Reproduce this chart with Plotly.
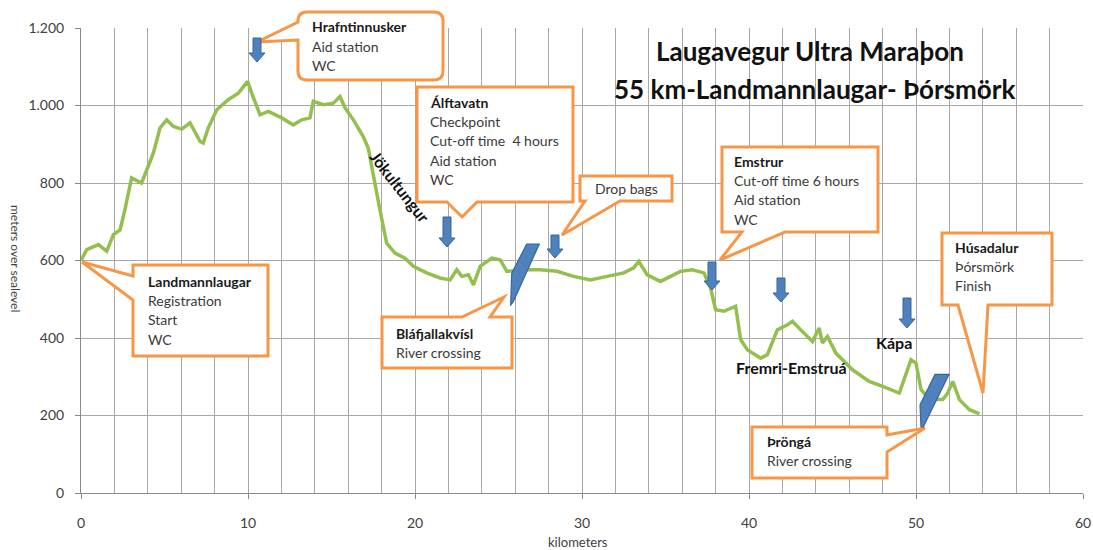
import plotly.graph_objects as go

# ---------------- data ----------------
km = [0.0, 0.34, 1.04, 1.54, 1.94, 2.34, 2.63, 3.03, 3.63, 4.33, 4.73, 5.13, 5.53, 6.03,
      6.53, 7.13, 7.32, 7.62, 8.13, 8.82, 9.42, 9.98, 10.22, 10.72, 11.22, 12.02, 12.71,
      13.22, 13.71, 13.91, 14.51, 15.11, 15.51, 15.81, 16.31, 16.9, 17.2, 17.5, 17.9,
      18.3, 18.8, 19.4, 19.9, 20.7, 21.5, 22.1, 22.5, 22.8, 23.2, 23.5, 23.9, 24.6, 25.1,
      25.5, 26.7, 27.5, 28.5, 29.5, 30.5, 31.5, 32.5, 33.1, 33.4, 33.9, 34.7, 35.9, 36.6,
      37.3, 37.7, 38.0, 38.5, 39.2, 39.5, 39.9, 40.7, 41.1, 41.7, 42.3, 42.6, 43.1, 43.8,
      44.2, 44.4, 44.7, 45.2, 46.2, 47.2, 48.0, 49.0, 49.7, 50.0, 50.3, 50.8, 51.6, 51.9,
      52.2, 52.6, 53.2, 53.8]
elevation = [600, 628, 641, 624, 667, 679, 731, 813, 800, 877, 942, 963, 946, 939,
             955, 907, 903, 942, 989, 1015, 1032, 1062, 1032, 976, 985, 968, 950,
             963, 968, 1011, 1002, 1006, 1023, 994, 963, 920, 890, 817, 731,
             645, 619, 606, 585, 568, 555, 550, 576, 559, 563, 537, 585, 606, 602,
             572, 576, 576, 572, 559, 550, 559, 568, 581, 598, 563, 546, 572, 576,
             568, 529, 473, 469, 482, 396, 370, 348, 357, 421, 434, 443, 421, 391,
             426, 387, 404, 361, 318, 288, 275, 258, 344, 335, 267, 241, 241, 258,
             288, 241, 215, 204]

x_ticks = [0, 10, 20, 30, 40, 50, 60]
y_ticks = [0, 200, 400, 600, 800, 1000, 1200]

title_lines = ["Laugavegur Ultra Maraþon", "55 km-Landmannlaugar- Þórsmörk"]

# ---------------- layout geometry ----------------
W, H = 1093, 550
ML, MR, MT, MB = 81, 10, 28, 57
XMAX, YMAX = 60, 1200
PW, PH = W - ML - MR, H - MT - MB


def px2paper(px, py):
    return (px - ML) / PW, 1 - (py - MT) / PH


def path(pts):
    s = ""
    for i, p in enumerate(pts):
        x, y = px2paper(*p)
        s += ("M" if i == 0 else " L") + " %.5f,%.5f" % (x, y)
    return s + " Z"


ORANGE = "#f79646"
BLUE = "#4f81bd"
BLUE_LINE = "#3a659a"
GRID = "#a8a8a8"

shapes = []


def add_poly(pts, fill, line, width):
    shapes.append(dict(type="path", path=path(pts), xref="paper", yref="paper",
                       fillcolor=fill, line=dict(color=line, width=width), layer="above"))


# callouts: box (x0, y0, x1, y1) and tail (edge, a, b, tip)
def callout(x0, y0, x1, y1, edge, a, b, tip):
    if edge == "left":
        pts = [(x0, y0), (x1, y0), (x1, y1), (x0, y1), (x0, b), tip, (x0, a)]
    elif edge == "bottom":
        pts = [(x0, y0), (x1, y0), (x1, y1), (b, y1), tip, (a, y1), (x0, y1)]
    elif edge == "top":
        pts = [(x0, y0), (a, y0), tip, (b, y0), (x1, y0), (x1, y1), (x0, y1)]
    else:  # right
        pts = [(x0, y0), (x1, y0), (x1, a), tip, (x1, b), (x1, y1), (x0, y1)]
    add_poly(pts, "white", ORANGE, 3)


def rounded_callout_left(x0, y0, x1, y1, r, a, b, tip):
    pts = [(x0 + r, y0), (x1 - r, y0)]
    s = ""
    X = lambda p: "%.5f,%.5f" % px2paper(*p)
    s = "M " + X((x0 + r, y0)) + " L " + X((x1 - r, y0))
    s += " Q " + X((x1, y0)) + " " + X((x1, y0 + r))
    s += " L " + X((x1, y1 - r)) + " Q " + X((x1, y1)) + " " + X((x1 - r, y1))
    s += " L " + X((x0 + r, y1)) + " Q " + X((x0, y1)) + " " + X((x0, y1 - r))
    s += " L " + X((x0, b)) + " L " + X(tip) + " L " + X((x0, a))
    s += " L " + X((x0, y0 + r)) + " Q " + X((x0, y0)) + " " + X((x0 + r, y0)) + " Z"
    shapes.append(dict(type="path", path=s, xref="paper", yref="paper",
                       fillcolor="white", line=dict(color=ORANGE, width=3), layer="above"))


rounded_callout_left(298, 12, 443, 80, 9, 22, 40, (257, 42))
callout(133, 265, 268, 356, "left", 276, 300, (82, 262))
callout(417, 87, 573, 202, "bottom", 447, 477, (462, 217))
callout(580, 176, 672, 201, "bottom", 585, 620, (562, 235))
callout(382, 317, 512, 368, "top", 462, 490, (504, 297))
callout(722, 147, 878, 232, "bottom", 742, 785, (720, 260))
callout(942, 233, 1052, 305, "bottom", 958, 988, (983, 393))
callout(752, 427, 887, 478, "right", 435, 452, (925, 428))

# block arrows (centre x, top, bottom) in pixels
for cx, top, bot in [(257, 38, 62), (447, 217, 247), (555, 235, 258),
                     (712, 262, 290), (781, 278, 302), (907, 298, 328)]:
    hh = 9
    add_poly([(cx - 4, top), (cx + 4, top), (cx + 4, bot - hh), (cx + 8, bot - hh),
              (cx, bot), (cx - 8, bot - hh), (cx - 4, bot - hh)], BLUE, BLUE_LINE, 1)

# river crossing markers
add_poly([(510.7, 305), (511.7, 273.3), (526.7, 244), (539.3, 244), (513.3, 301.7)],
         BLUE, BLUE_LINE, 1.2)
add_poly([(921, 427), (920, 405), (935, 374.3), (949, 374.3), (923.3, 427)],
         BLUE, BLUE_LINE, 1.2)

annotations = []
FONT = "Lato, 'Open Sans', sans-serif"


def text(px, py, t, size=14, color="#3a3a3a", anchor="left", angle=0, bold=False):
    x, y = px2paper(px, py)
    annotations.append(dict(
        x=x, y=y, xref="paper", yref="paper",
        text=("<b>%s</b>" % t) if bold else t, showarrow=False,
        xanchor=anchor, yanchor="middle", textangle=angle,
        font=dict(family=FONT, size=size, color=color)))


def block(px, py, lines):
    for i, ln in enumerate(lines):
        text(px, py + i * 19.4, ln, bold=(i == 0), color="#1a1a1a" if i == 0 else "#3a3a3a")


block(310, 27, ["Hrafntinnusker", "Aid station", "WC"])
block(146, 281, ["Landmannlaugar", "Registration", "Start", "WC"])
block(428, 102, ["Álftavatn", "Checkpoint", "Cut-off time  4 hours", "Aid station", "WC"])
text(593, 189, "Drop bags")
block(394, 333, ["Bláfjallakvísl", "River crossing"])
block(732, 161, ["Emstrur", "Cut-off time 6 hours", "Aid station", "WC"])
block(953, 247, ["Húsadalur", "Þórsmörk", "Finish"])
block(765, 441, ["Þröngá", "River crossing"])

text(400, 186, "Jökultungur", size=16, color="#111111", anchor="center", angle=52, bold=True)
text(791, 367, "Fremri-Emstruá", size=16, color="#111111", anchor="center", bold=True)
text(894, 342, "Kápa", size=16, color="#111111", anchor="center", bold=True)

text(810, 51, title_lines[0], size=26, color="#111111", anchor="center", bold=True)
text(814, 89, title_lines[1], size=26, color="#111111", anchor="center", bold=True)

text(16, 258, "meters over sealevel", size=12, color="#404040", anchor="center", angle=90)
text(578, 542, "kilometers", size=13, color="#404040", anchor="center")

fig = go.Figure(go.Scatter(x=km, y=elevation, mode="lines",
                           line=dict(color="#93bf4f", width=3.5), hoverinfo="x+y"))

fig.update_layout(
    width=W, height=H, margin=dict(l=ML, r=MR, t=MT, b=MB, autoexpand=False),
    paper_bgcolor="white", plot_bgcolor="white", showlegend=False,
    separators=",.", shapes=shapes, annotations=annotations,
    font=dict(family=FONT, size=14, color="#404040"),
    xaxis=dict(range=[0, XMAX], tickvals=x_ticks, showgrid=True, gridcolor=GRID, gridwidth=1,
               minor=dict(dtick=2, showgrid=True, gridcolor=GRID, gridwidth=1),
               showline=True, linecolor="#8a8a8a", linewidth=1, zeroline=False,
               ticks="outside", ticklen=5, tickcolor="#8a8a8a", ticklabelstandoff=12,
               tickfont=dict(family=FONT, size=14, color="#404040"), fixedrange=True,
               automargin=False),
    yaxis=dict(range=[0, YMAX], tickvals=y_ticks, tickformat=",d", showgrid=True,
               gridcolor=GRID, gridwidth=1, showline=True, linecolor="#8a8a8a", linewidth=1,
               zeroline=False, ticks="outside", ticklen=5, tickcolor="#8a8a8a",
               ticklabelstandoff=8, tickfont=dict(family=FONT, size=14, color="#404040"),
               fixedrange=True, automargin=False),
)

fig.write_html("out.html", config={"displayModeBar": False},
               post_script="document.body.style.margin='0';document.body.style.overflow='hidden';")
